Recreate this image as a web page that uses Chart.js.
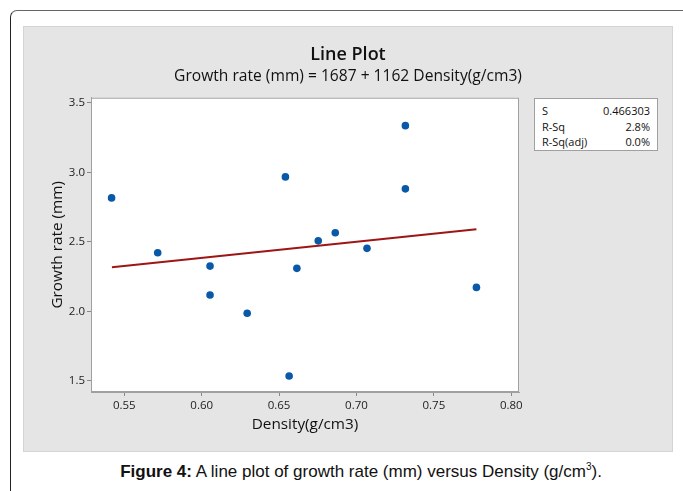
<!DOCTYPE html>
<html>
<head>
<meta charset="utf-8">
<script src="https://cdn.jsdelivr.net/npm/chart.js@4.4.1/dist/chart.umd.min.js"></script>
<style>
  body { margin: 0; background: #fff; width: 683px; height: 491px; overflow: hidden; position: relative; }
  #frame { position: absolute; left: 10px; top: 10px; width: 700px; height: 500px;
           border-top: 1.5px solid #666; border-left: 1.5px solid #222; border-top-left-radius: 7px; }
  #panel { position: absolute; left: 23px; top: 26px; width: 650px; height: 426px; box-sizing: border-box;
           background: #e5e5e5; border: 1px solid #d4d4d4; }
  #panel canvas { position: absolute; left: 0; top: 0; }
  #stats { position: absolute; left: 510px; top: 71px; width: 124px; height: 53px; box-sizing: border-box;
           background: #fff; border: 1px solid #a0a0a0; font: 11px "Open Sans", sans-serif; color: #111; padding: 4px 7px 0 7px; }
  #stats div { display: flex; justify-content: space-between; line-height: 15.5px; }
  #caption { position: absolute; left: 0; width: 722px; top: 461px; text-align: center;
             font: 17px "Liberation Sans", Arial, sans-serif; color: #111; }
</style>
</head>
<body>
<div id="frame"></div>
<div id="panel">
  <canvas id="chart" width="648" height="424"></canvas>
  <div id="stats">
    <div><span>S</span><span>0.466303</span></div>
    <div><span>R-Sq</span><span>2.8%</span></div>
    <div><span>R-Sq(adj)</span><span>0.0%</span></div>
  </div>
</div>
<div id="caption"><b>Figure 4:</b> A line plot of growth rate (mm) versus Density (g/cm<sup style="font-size:10px">3</sup>).</div>

<script>
// datos
const density = [0.5418, 0.5716, 0.6054, 0.6054, 0.6294, 0.6541, 0.6565, 0.6615, 0.6753, 0.6863, 0.7068, 0.7316, 0.7316, 0.7775];
const growth  = [2.816, 2.421, 2.325, 2.117, 1.986, 2.967, 1.534, 2.309, 2.507, 2.565, 2.453, 3.336, 2.881, 2.172];

// recta ajustada (extremos)
const fitX = [0.542, 0.7775];
const fitY = [2.317, 2.590];

const xTicks = [0.55, 0.60, 0.65, 0.70, 0.75, 0.80];
const yTicks = [1.5, 2.0, 2.5, 3.0, 3.5];

const FONT = '"Open Sans", sans-serif';

// fondo blanco y marco del área de trazado
const plotFrame = {
  id: 'plotFrame',
  beforeDraw(chart) {
    const { ctx, chartArea: a } = chart;
    ctx.save();
    ctx.fillStyle = '#fff';
    ctx.fillRect(a.left, a.top, a.right - a.left, a.bottom - a.top);
    ctx.restore();
  },
  afterDraw(chart) {
    const { ctx, chartArea: a } = chart;
    ctx.save();
    ctx.strokeStyle = '#a0a0a0';
    ctx.lineWidth = 1;
    ctx.strokeRect(a.left + 0.5, a.top + 0.5, a.right - a.left - 1, a.bottom - a.top - 1);
    ctx.restore();
  }
};

new Chart(document.getElementById('chart'), {
  type: 'scatter',
  data: {
    datasets: [
      {
        label: 'Fit',
        type: 'line',
        data: fitX.map((x, i) => ({ x, y: fitY[i] })),
        borderColor: '#9e1515',
        borderWidth: 2,
        pointRadius: 0,
        fill: false
      },
      {
        label: 'Growth rate',
        data: density.map((x, i) => ({ x, y: growth[i] })),
        backgroundColor: '#0a58a8',
        borderWidth: 0,
        pointRadius: 3.8
      }
    ]
  },
  options: {
    responsive: false,
    animation: false,
    layout: { padding: 0 },
    plugins: {
      legend: { display: false },
      tooltip: { enabled: false },
      title: {
        display: true,
        text: 'Line Plot',
        color: '#111',
        font: { family: FONT, size: 18, weight: '600', lineHeight: 1.2 },
        padding: { top: 17.2, bottom: 0 }
      },
      subtitle: {
        display: true,
        text: 'Growth rate (mm) = 1687 + 1162 Density(g/cm3)',
        color: '#111',
        font: { family: FONT, size: 15.6, weight: 'normal', lineHeight: 1.2 },
        padding: { top: 1.4, bottom: 11.8 }
      }
    },
    scales: {
      x: {
        type: 'linear',
        min: 0.5285,
        max: 0.805,
        afterFit: s => { s.height = 59; },
        afterBuildTicks: s => { s.ticks = xTicks.map(v => ({ value: v })); },
        ticks: { callback: v => v.toFixed(2), color: '#222', font: { family: FONT, size: 11.5 }, padding: 3, maxRotation: 0 },
        grid: { drawOnChartArea: false, drawTicks: true, tickLength: 4, color: '#888' },
        border: { display: true, color: '#a0a0a0' },
        title: { display: true, text: 'Density(g/cm3)', color: '#111', font: { family: FONT, size: 15.3 }, padding: { top: 0, bottom: 17 } }
      },
      y: {
        type: 'linear',
        min: 1.419,
        max: 3.537,
        afterFit: s => { s.width = 67; },
        afterBuildTicks: s => { s.ticks = yTicks.map(v => ({ value: v })); },
        ticks: { callback: v => v.toFixed(1), color: '#222', font: { family: FONT, size: 11.5 }, padding: 2 },
        grid: { drawOnChartArea: false, drawTicks: true, tickLength: 4, color: '#888' },
        border: { display: true, color: '#a0a0a0' },
        title: { display: true, text: 'Growth rate (mm)', color: '#111', font: { family: FONT, size: 15.3 }, padding: { top: 24, bottom: 0 } }
      },
      // eje vacío a la derecha: reserva el hueco del cuadro de estadísticas
      y2: {
        type: 'linear',
        position: 'right',
        display: true,
        afterFit: s => { s.width = 153; },
        ticks: { display: false },
        grid: { display: false, drawTicks: false },
        border: { display: false }
      }
    }
  },
  plugins: [plotFrame]
});
</script>
</body>
</html>
